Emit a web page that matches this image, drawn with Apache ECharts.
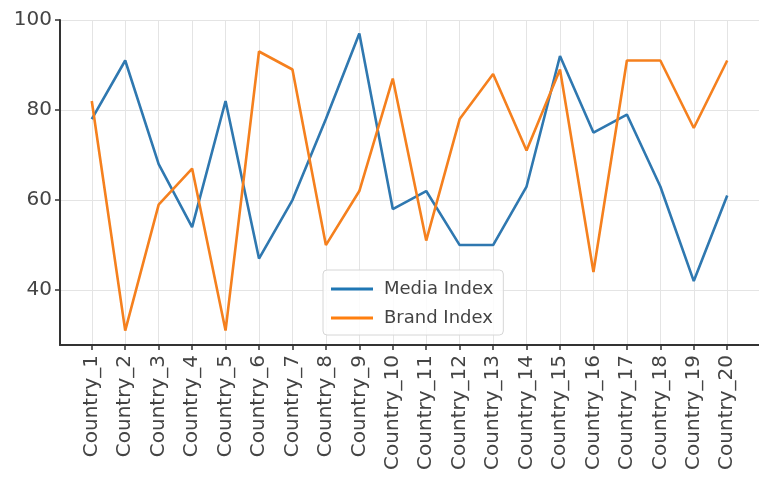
<!DOCTYPE html>
<html>
<head>
<meta charset="utf-8">
<script src="https://cdn.jsdelivr.net/npm/echarts@6/dist/echarts.min.js"></script>
<style>
  html, body { margin: 0; padding: 0; background: #fff; }
  #main { width: 759px; height: 480px; }
</style>
</head>
<body>
<div id="main"></div>
<script>
// categories and values
var countries = ['Country_1', 'Country_2', 'Country_3', 'Country_4', 'Country_5',
  'Country_6', 'Country_7', 'Country_8', 'Country_9', 'Country_10',
  'Country_11', 'Country_12', 'Country_13', 'Country_14', 'Country_15',
  'Country_16', 'Country_17', 'Country_18', 'Country_19', 'Country_20'];
var mediaIndex = [78, 91, 68, 54, 82, 47, 60, 78, 97, 58, 62, 50, 50, 63, 92, 75, 79, 63, 42, 61];
var brandIndex = [82, 31, 59, 67, 31, 93, 89, 50, 62, 87, 51, 78, 88, 71, 89, 44, 91, 91, 76, 91];
var yTicks = [40, 60, 80, 100];

// category positions as indexes on a value axis (matplotlib style margins)
var xTicks = countries.map(function (c, i) { return i; });
function pairs(vals) {
  return vals.map(function (v, i) { return [i, v]; });
}

var myChart = echarts.init(document.getElementById('main'));

var option = {
  animation: false,
  backgroundColor: '#fff',
  grid: {
    left: 60,
    right: -9,
    top: 20,
    bottom: 135
  },
  legend: {
    orient: 'vertical',
    left: 323,
    top: 270,
    padding: [10, 10, 8, 8],
    itemGap: 11,
    itemWidth: 42,
    itemHeight: 3,
    icon: 'rect',
    backgroundColor: 'rgba(255,255,255,0.85)',
    borderColor: '#d6d6d6',
    borderWidth: 1,
    borderRadius: 4,
    textStyle: {
      fontFamily: 'DejaVu Sans',
      fontSize: 18,
      color: '#444',
      padding: [0, 0, 0, 6]
    },
    data: ['Media Index', 'Brand Index']
  },
  xAxis: {
    type: 'value',
    min: -0.95,
    max: 19.95,
    axisLine: { show: true, onZero: false, lineStyle: { color: '#333', width: 2 } },
    axisTick: {
      show: true,
      length: 5,
      customValues: xTicks,
      lineStyle: { color: '#333', width: 1.5 }
    },
    axisLabel: {
      customValues: xTicks,
      rotate: 90,
      margin: 10,
      fontFamily: 'DejaVu Sans',
      fontSize: 20,
      color: '#444',
      formatter: function (v) { return countries[Math.round(v)]; }
    },
    splitLine: { show: true, lineStyle: { color: '#e4e4e4', width: 1 } }
  },
  yAxis: {
    type: 'value',
    min: 27.8,
    max: 100,
    axisLine: { show: true, onZero: false, lineStyle: { color: '#333', width: 2 } },
    axisTick: {
      show: true,
      length: 5,
      customValues: yTicks,
      lineStyle: { color: '#333', width: 1.5 }
    },
    axisLabel: {
      customValues: yTicks,
      margin: 8,
      fontFamily: 'DejaVu Sans',
      fontSize: 20,
      color: '#444'
    },
    splitLine: { show: true, lineStyle: { color: '#e4e4e4', width: 1 } }
  },
  series: [
    {
      name: 'Media Index',
      type: 'line',
      data: pairs(mediaIndex),
      symbol: 'none',
      color: '#1f77b4',
      lineStyle: { width: 2.6, color: '#2f78b0' }
    },
    {
      name: 'Brand Index',
      type: 'line',
      data: pairs(brandIndex),
      symbol: 'none',
      color: '#ff7f0e',
      lineStyle: { width: 2.6, color: '#f5801e' }
    }
  ]
};

myChart.setOption(option);
</script>
</body>
</html>
